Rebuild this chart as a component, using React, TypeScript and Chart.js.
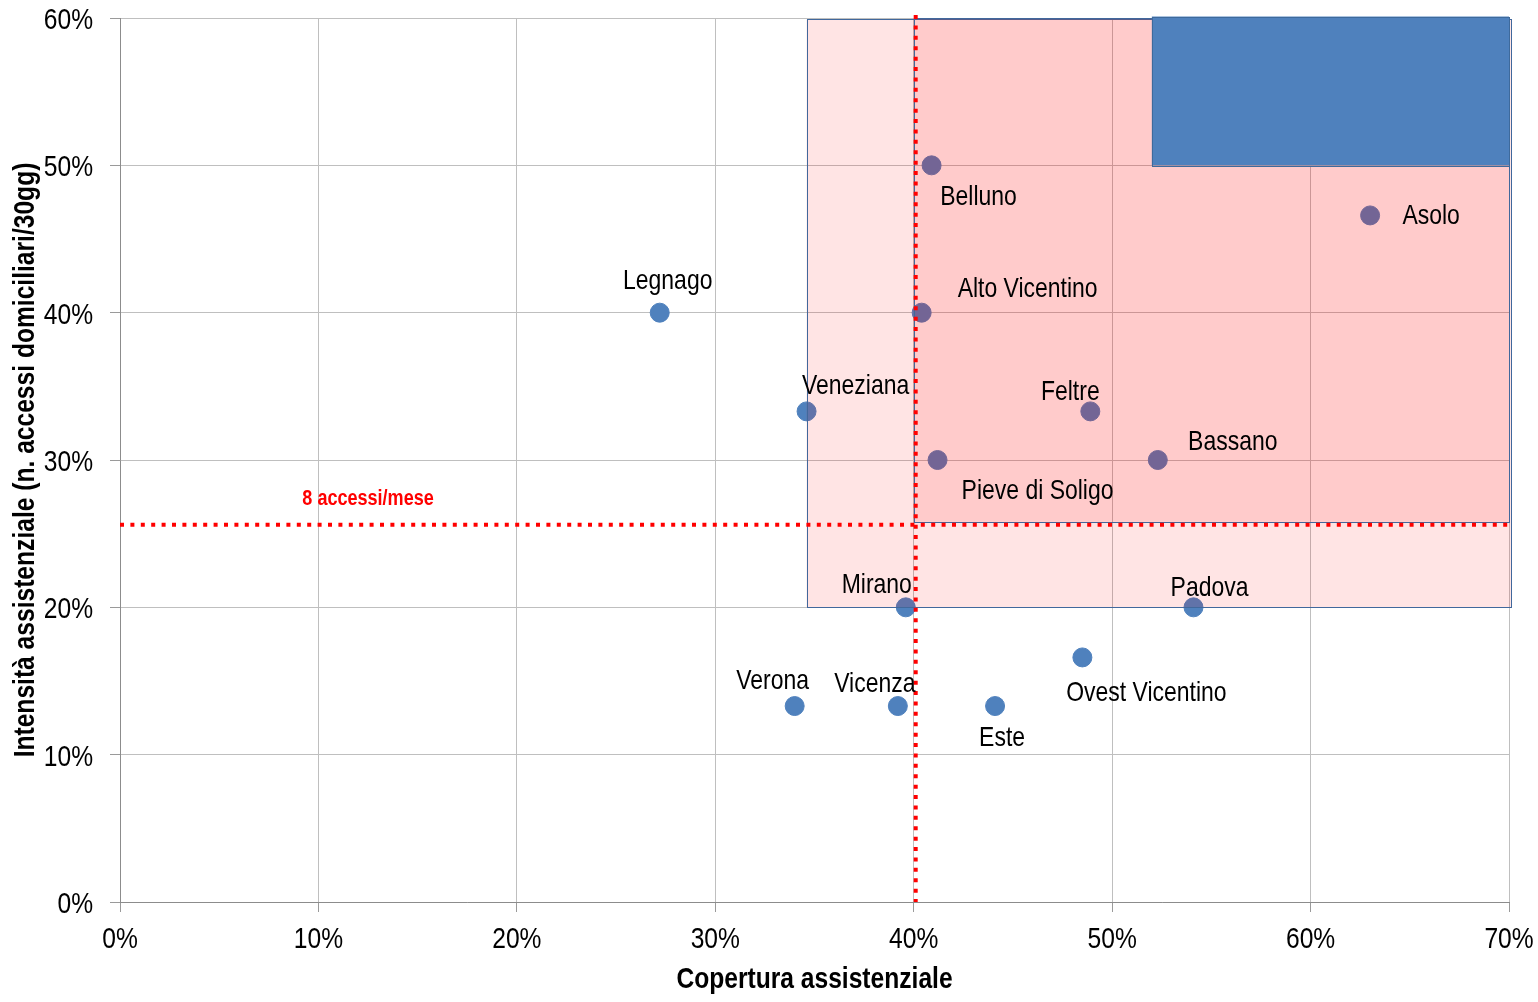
import React, { useEffect, useRef } from "react";
import { Chart, registerables } from "chart.js";

Chart.register(...registerables);

// ---- Data ----
const districts = [
  "Legnago",
  "Veneziana",
  "Belluno",
  "Alto Vicentino",
  "Feltre",
  "Pieve di Soligo",
  "Bassano",
  "Asolo",
  "Mirano",
  "Padova",
  "Ovest Vicentino",
  "Verona",
  "Vicenza",
  "Este",
];
const coverage = [27.2, 34.6, 40.9, 40.4, 48.9, 41.2, 52.3, 63.0, 39.6, 54.1, 48.5, 34.0, 39.2, 44.1];
const intensity = [40.0, 33.3, 50.0, 40.0, 33.3, 30.0, 30.0, 46.6, 20.0, 20.0, 16.6, 13.3, 13.3, 13.3];

const xTickValues = [0, 10, 20, 30, 40, 50, 60, 70];
const yTickValues = [0, 10, 20, 30, 40, 50, 60];

const thresholdCoverage = 40.1;
const thresholdIntensity = 25.6;
const thresholdLabel = "8 accessi/mese";
const thresholdLabelX = 12.5;

// zones: [x1, y1, x2, y2] in data units
const zoneOuter = [34.6, 20.0, 70.1, 59.9];
const zoneInner = [40.0, 25.8, 70.0, 60.0];
const zoneTop = [52.0, 50.0, 70.0, 60.1];

const xTitle = "Copertura assistenziale";
const yTitle = "Intensità assistenziale (n. accessi domiciliari/30gg)";

// ---- Styles ----
const FONT = '"Liberation Sans", Arial, sans-serif';
const NARROW_X = 0.82; // horizontal compression to mimic a narrow face
const labelOffsets: [number, number][] = [
  [8, -31],
  [49, -25],
  [47, 32],
  [106, -23],
  [-20, -19],
  [100, 31],
  [75, -18],
  [61, 1],
  [-29, -22],
  [16, -19],
  [64, 36],
  [-22, -25],
  [-23, -22],
  [7, 32],
];

function narrowText(
  ctx: CanvasRenderingContext2D,
  text: string,
  x: number,
  y: number,
  font: string,
  color: string,
  align: CanvasTextAlign,
  baseline: CanvasTextBaseline,
  rotate = 0
) {
  ctx.save();
  ctx.translate(x, y);
  if (rotate) ctx.rotate(rotate);
  ctx.scale(NARROW_X, 1);
  ctx.font = font;
  ctx.fillStyle = color;
  ctx.textAlign = align;
  ctx.textBaseline = baseline;
  ctx.fillText(text, 0, 0);
  ctx.restore();
}

const overlayPlugin = {
  id: "overlay",
  afterDatasetsDraw(chart: any) {
    const ctx: CanvasRenderingContext2D = chart.ctx;
    const xs = chart.scales.x;
    const ys = chart.scales.y;
    const rect = (z: number[], fill: string, stroke: string) => {
      const x1 = xs.getPixelForValue(z[0]);
      const x2 = xs.getPixelForValue(z[2]);
      const y1 = ys.getPixelForValue(z[3]);
      const y2 = ys.getPixelForValue(z[1]);
      ctx.fillStyle = fill;
      ctx.fillRect(x1, y1, x2 - x1, y2 - y1);
      ctx.strokeStyle = stroke;
      ctx.lineWidth = 1;
      ctx.strokeRect(Math.round(x1) + 0.5, Math.round(y1) + 0.5, Math.round(x2 - x1), Math.round(y2 - y1));
    };
    ctx.save();
    rect(zoneOuter, "rgba(255,0,0,0.105)", "#41689c");
    rect(zoneInner, "rgba(255,0,0,0.115)", "#41689c");
    rect(zoneTop, "#4f81bd", "#3e6a9c");

    // threshold lines
    ctx.strokeStyle = "#ff0000";
    ctx.lineWidth = 4;
    ctx.setLineDash([4, 6.4]);
    const vx = xs.getPixelForValue(thresholdCoverage);
    ctx.beginPath();
    ctx.moveTo(vx, ys.getPixelForValue(60.2));
    ctx.lineTo(vx, ys.getPixelForValue(0));
    ctx.stroke();
    const hy = ys.getPixelForValue(thresholdIntensity);
    ctx.beginPath();
    ctx.moveTo(xs.getPixelForValue(0), hy);
    ctx.lineTo(xs.getPixelForValue(70), hy);
    ctx.stroke();
    ctx.setLineDash([]);
    ctx.restore();

    narrowText(ctx, thresholdLabel, xs.getPixelForValue(thresholdLabelX), hy - 20, `bold 22px ${FONT}`, "#ff0000", "center", "alphabetic");

    // point labels
    districts.forEach((name, i) => {
      const px = xs.getPixelForValue(coverage[i]);
      const py = ys.getPixelForValue(intensity[i]);
      const [dx, dy] = labelOffsets[i];
      narrowText(ctx, name, px + dx, py + dy, `28px ${FONT}`, "#000000", "center", "middle");
    });

    // tick labels
    xTickValues.forEach((v) => {
      narrowText(ctx, `${v}%`, xs.getPixelForValue(v), ys.bottom + 46, `30px ${FONT}`, "#000000", "center", "alphabetic");
    });
    yTickValues.forEach((v) => {
      narrowText(ctx, `${v}%`, xs.left - 27, ys.getPixelForValue(v) + 11, `30px ${FONT}`, "#000000", "right", "alphabetic");
    });

    // axis titles
    narrowText(ctx, xTitle, (xs.left + xs.right) / 2, 988, `bold 30px ${FONT}`, "#000000", "center", "alphabetic");
    narrowText(ctx, yTitle, 34, (ys.top + ys.bottom) / 2, `bold 30px ${FONT}`, "#000000", "center", "alphabetic", -Math.PI / 2);
  },
};

export default function App() {
  const ref = useRef<HTMLCanvasElement | null>(null);
  useEffect(() => {
    if (!ref.current) return;
    const chart = new Chart(ref.current, {
      type: "scatter",
      data: {
        datasets: [
          {
            label: "ULSS",
            data: districts.map((_, i) => ({ x: coverage[i], y: intensity[i] })),
            backgroundColor: "#4f81bd",
            borderColor: "#4f81bd",
            pointRadius: 9.5,
            pointHoverRadius: 9.5,
          },
        ],
      },
      options: {
        animation: false,
        responsive: true,
        maintainAspectRatio: false,
        layout: { padding: { top: 18, right: 29, left: 0, bottom: 0 } },
        plugins: { legend: { display: false }, tooltip: { enabled: false } },
        scales: {
          x: {
            type: "linear",
            min: 0,
            max: 70,
            afterBuildTicks: (scale: any) => {
              scale.ticks = xTickValues.map((v) => ({ value: v }));
            },
            afterFit: (scale: any) => {
              scale.height = 100;
            },
            ticks: { display: false },
            grid: { color: "#bfbfbf", tickColor: "#9a9a9a", tickLength: 10, lineWidth: 1 },
            border: { color: "#8c8c8c", width: 1 },
          },
          y: {
            type: "linear",
            min: 0,
            max: 60,
            afterBuildTicks: (scale: any) => {
              scale.ticks = yTickValues.map((v) => ({ value: v }));
            },
            afterFit: (scale: any) => {
              scale.width = 120;
            },
            ticks: { display: false },
            grid: { color: "#bfbfbf", tickColor: "#9a9a9a", tickLength: 10, lineWidth: 1 },
            border: { color: "#8c8c8c", width: 1 },
          },
        },
      },
      plugins: [overlayPlugin],
    });
    return () => chart.destroy();
  }, []);
  return (
    <div style={{ position: "fixed", left: 0, top: 0, width: 1538, height: 1002, background: "#ffffff" }}>
      <canvas ref={ref} />
    </div>
  );
}
